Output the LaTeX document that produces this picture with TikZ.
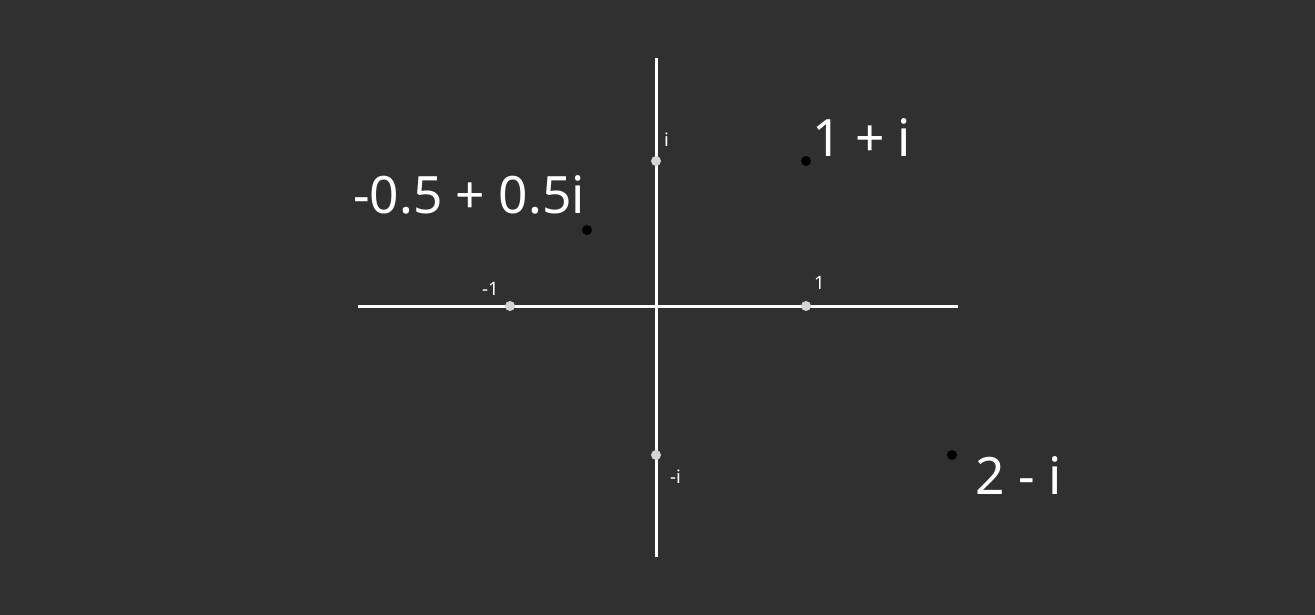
\documentclass[tikz,border=0pt]{standalone}
\usepackage{fontspec}
\setmainfont{Noto Sans}
\definecolor{bg}{HTML}{303030}
\definecolor{tick}{HTML}{D4D4D4}
\begin{document}
\begin{tikzpicture}[x=1pt,y=-1pt,
  axis/.style={draw=white,line width=3pt},
  tickdot/.style={circle,fill=tick,inner sep=0pt,minimum size=10pt},
  ptdot/.style={circle,fill=black,inner sep=0pt,minimum size=10pt},
  small/.style={text=white,inner sep=0pt,anchor=base west,font=\fontsize{18.5}{18.5}\selectfont},
  big/.style={text=white,inner sep=0pt,anchor=base west,font=\fontsize{51.5}{51.5}\selectfont}]
\fill[bg] (0,0) rectangle (1315,615);
\useasboundingbox (0,0) rectangle (1315,615);
\coordinate (xl) at (358,306);
\coordinate (xr) at (958,306);
\coordinate (yt) at (656,58);
\coordinate (yb) at (656,557);
\draw[axis] (xl) -- (xr);
\draw[axis] (yt) -- (yb);
\node[tickdot] (m1) at (510,306) {};
\node[tickdot] (p1) at (806,306) {};
\node[tickdot] (pi) at (656,161) {};
\node[tickdot] (mi) at (656,455) {};
\node[small] (lm1) at (482,295) {-1};
\node[small] (lp1) at (814,289) {1};
\node[small] (lpi) at (664,147) {i};
\node[small] (lmi) at (670,483) {-i};
\node[ptdot] (a) at (806,161) {};
\node[ptdot] (b) at (587,230) {};
\node[ptdot] (c) at (952,455) {};
\node[big] (la) at (812,157) {1 + i};
\node[big] (lb) at (353,213) {-0.5 + 0.5i};
\node[big] (lc) at (975,494) {2 - i};
\end{tikzpicture}
\end{document}
